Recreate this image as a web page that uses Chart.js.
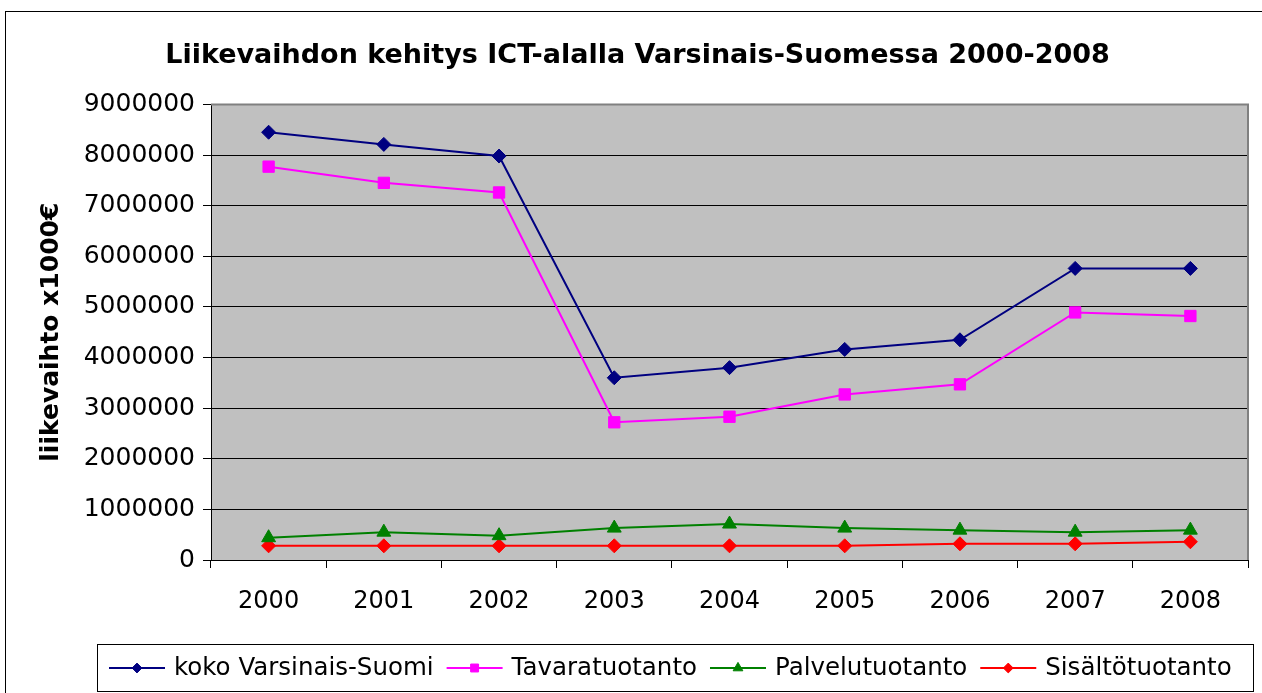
<!DOCTYPE html>
<html>
<head>
<meta charset="utf-8">
<script src="https://cdn.jsdelivr.net/npm/chart.js@4.4.0/dist/chart.umd.min.js"></script>
<style>
  html, body { margin: 0; padding: 0; background: #fff; }
  #chart { display: block; }
</style>
</head>
<body>
<canvas id="chart" width="1262" height="693"></canvas>
<script>
const years = ['2000', '2001', '2002', '2003', '2004', '2005', '2006', '2007', '2008'];
const kokoVarsinaisSuomi = [8450000, 8210000, 7980000, 3600000, 3800000, 4160000, 4350000, 5760000, 5760000];
const tavaratuotanto = [7770000, 7450000, 7260000, 2720000, 2830000, 3270000, 3470000, 4890000, 4820000];
const palvelutuotanto = [440000, 550000, 480000, 630000, 710000, 630000, 590000, 550000, 590000];
const sisaltotuotanto = [280000, 280000, 280000, 280000, 280000, 280000, 320000, 320000, 360000];
const yTicks = [0, 1000000, 2000000, 3000000, 4000000, 5000000, 6000000, 7000000, 8000000, 9000000];

const FONT = 'DejaVu Sans';

// grey plot area, plot frame and outer frame
const framePlugin = {
    id: 'frame',
    beforeDraw(chart) {
        const ctx = chart.ctx;
        const a = chart.chartArea;
        ctx.save();
        ctx.fillStyle = '#fff';
        ctx.fillRect(0, 0, chart.width, chart.height);
        ctx.fillStyle = '#C0C0C0';
        ctx.fillRect(a.left, a.top, a.right - a.left, a.bottom - a.top);
        ctx.restore();
    },
    afterDraw(chart) {
        const ctx = chart.ctx;
        const a = chart.chartArea;
        ctx.save();
        ctx.strokeStyle = '#808080';
        ctx.lineWidth = 2;
        ctx.beginPath();
        ctx.moveTo(a.left, a.top);
        ctx.lineTo(a.right, a.top);
        ctx.lineTo(a.right, a.bottom);
        ctx.stroke();
        ctx.strokeStyle = '#000';
        ctx.lineWidth = 1;
        ctx.strokeRect(5.5, 11.5, chart.width, chart.height);
        ctx.restore();
    }
};

// Excel-style legend: line with marker, boxed
const boxLegend = {
    id: 'boxLegend',
    afterDraw(chart) {
        const ctx = chart.ctx;
        ctx.save();
        ctx.strokeStyle = '#000';
        ctx.lineWidth = 1;
        ctx.strokeRect(97.5, 644.5, 1156, 47);
        ctx.font = '24.5px "' + FONT + '"';
        ctx.textBaseline = 'middle';
        let x = 109;
        const y = 668;
        chart.data.datasets.forEach(ds => {
            ctx.strokeStyle = ds.borderColor;
            ctx.lineWidth = 2;
            ctx.beginPath();
            ctx.moveTo(x, y);
            ctx.lineTo(x + 56, y);
            ctx.stroke();
            ctx.fillStyle = ds.pointBackgroundColor;
            ctx.strokeStyle = ds.pointBorderColor;
            ctx.lineWidth = 1;
            Chart.helpers.drawPoint(ctx, {
                pointStyle: ds.pointStyle,
                radius: ds.pointRadius * 0.7,
                rotation: 0,
                borderWidth: 1
            }, x + 28, y);
            ctx.fillStyle = '#000';
            ctx.fillText(ds.label, x + 65, y + 1);
            x += 65 + ctx.measureText(ds.label).width + 13;
        });
        ctx.restore();
    }
};

function series(label, data, color, style, radius) {
    return {
        label: label,
        data: data,
        borderColor: color,
        backgroundColor: color,
        pointBackgroundColor: color,
        pointBorderColor: color,
        pointStyle: style,
        pointRadius: radius,
        pointHoverRadius: radius,
        pointBorderWidth: 1,
        borderWidth: 2,
        tension: 0,
        fill: false
    };
}

new Chart(document.getElementById('chart'), {
    type: 'line',
    data: {
        labels: years,
        datasets: [
            series('koko Varsinais-Suomi', kokoVarsinaisSuomi, '#000080', 'rectRot', 7),
            series('Tavaratuotanto', tavaratuotanto, '#FF00FF', 'rect', 8),
            series('Palvelutuotanto', palvelutuotanto, '#008000', 'triangle', 8),
            series('Sisältötuotanto', sisaltotuotanto, '#FF0000', 'rectRot', 7)
        ]
    },
    options: {
        responsive: false,
        animation: false,
        layout: { padding: { left: 27, right: 14, top: 0, bottom: 53 } },
        plugins: {
            legend: { display: false },
            tooltip: { enabled: false },
            title: {
                display: true,
                text: 'Liikevaihdon kehitys ICT-alalla Varsinais-Suomessa 2000-2008',
                color: '#000',
                font: { family: FONT, size: 27, weight: 'bold' },
                padding: { top: 40, bottom: 32 }
            }
        },
        scales: {
            x: {
                offset: true,
                grid: {
                    offset: true,
                    drawOnChartArea: false,
                    color: '#000',
                    tickLength: 8,
                    tickColor: '#000'
                },
                border: { color: '#000', width: 1 },
                ticks: {
                    color: '#000',
                    font: { family: FONT, size: 24 },
                    padding: 19,
                    maxRotation: 0
                },
                afterFit(scale) { scale.height = 80; }
            },
            y: {
                min: 0,
                max: 9000000,
                afterBuildTicks(scale) {
                    scale.ticks = yTicks.map(v => ({ value: v }));
                },
                grid: {
                    color: '#000',
                    tickLength: 8,
                    tickColor: '#000'
                },
                border: { color: '#000', width: 1 },
                ticks: {
                    color: '#000',
                    font: { family: FONT, size: 25 },
                    padding: 8,
                    callback: v => String(v)
                },
                title: {
                    display: true,
                    text: 'liikevaihto x1000€',
                    color: '#000',
                    font: { family: FONT, size: 25, weight: 'bold' },
                    padding: { top: 9, bottom: 0 }
                },
                afterFit(scale) { scale.width = 184; }
            }
        }
    },
    plugins: [framePlugin, boxLegend]
});
</script>
</body>
</html>
